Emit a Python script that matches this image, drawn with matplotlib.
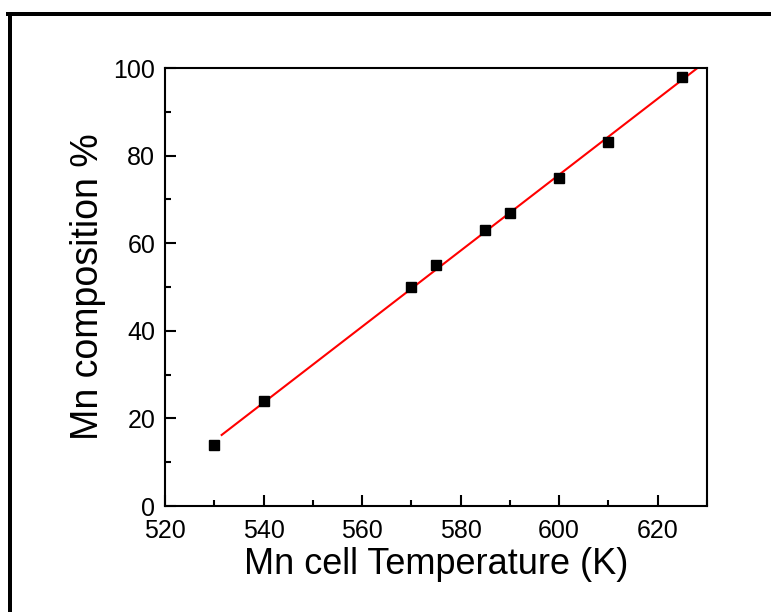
import numpy as np
import matplotlib.pyplot as plt
from matplotlib.lines import Line2D
from matplotlib.ticker import MultipleLocator

plt.rcParams['font.family'] = ['Liberation Sans', 'DejaVu Sans']

# Mn cell temperature (K) vs Mn composition (%)
temperature = [530, 540, 570, 575, 585, 590, 600, 610, 625]
composition = [14, 24, 50, 55, 63, 67, 75, 83, 98]
fit_range = [531.5, 629.5]

fig = plt.figure(figsize=(7.71, 6.12), dpi=100)
ax = fig.add_axes([165/771, 1-506/612, (707-165)/771, (506-68)/612])

# linear fit
slope, intercept = np.polyfit(temperature, composition, 1)
xf = np.array(fit_range)
ax.plot(xf, slope*xf + intercept, color='red', lw=1.5, zorder=2)
ax.plot(temperature, composition, 's', color='black', ms=7, zorder=3, clip_on=False)

ax.set_xlim(520, 630)
ax.set_ylim(0, 100)
ax.xaxis.set_major_locator(MultipleLocator(20))
ax.xaxis.set_minor_locator(MultipleLocator(10))
ax.yaxis.set_major_locator(MultipleLocator(20))
ax.yaxis.set_minor_locator(MultipleLocator(10))
ax.tick_params(which='both', direction='in', width=1.5, labelsize=18, top=False, right=False)
ax.tick_params(which='major', length=8)
ax.tick_params(axis='x', which='major', pad=9)
ax.tick_params(axis='y', which='major', pad=7)
ax.tick_params(which='minor', length=4)
for s in ax.spines.values():
    s.set_linewidth(1.5)

ax.set_xlabel('Mn cell Temperature (K)', fontsize=26, labelpad=3)
ax.set_ylabel('Mn composition %', fontsize=27, labelpad=5)

# outer frame
lw = 4 * 72 / 100
fig.add_artist(Line2D([10/771, 10/771], [0, 1-14/612], color='black', lw=lw, transform=fig.transFigure))
fig.add_artist(Line2D([8/771, 1], [1-14/612, 1-14/612], color='black', lw=lw, transform=fig.transFigure))

fig.savefig('out.png', dpi=100)
